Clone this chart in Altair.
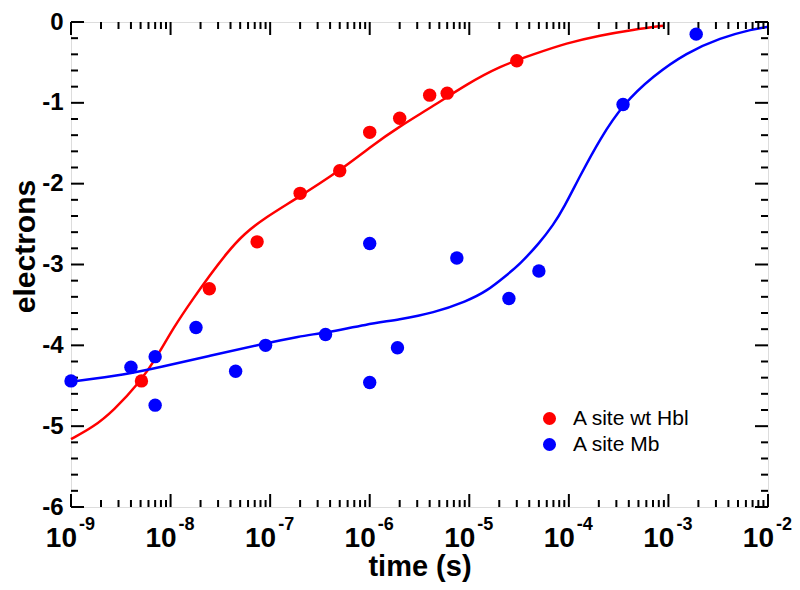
import altair as alt
import pandas as pd

# ---------------- data ----------------
series_names = ["A site wt Hbl", "A site Mb"]
series_colors = ["#ff0000", "#0000ff"]

red_t = [5.1e-9, 2.45e-8, 7.4e-8, 2.0e-7, 5.0e-7, 1.0e-6, 2.0e-6, 4.0e-6, 6.0e-6, 3.0e-5]
red_e = [-4.44, -3.30, -2.72, -2.12, -1.84, -1.365, -1.19, -0.905, -0.88, -0.48]

blue_t = [1.0e-9, 4.0e-9, 7.0e-9, 7.0e-9, 1.8e-8, 4.5e-8, 9.0e-8, 3.6e-7, 1.0e-6, 1.0e-6,
          1.9e-6, 7.5e-6, 2.5e-5, 5.0e-5, 3.5e-4, 1.9e-3]
blue_e = [-4.44, -4.27, -4.14, -4.74, -3.78, -4.32, -4.00, -3.865, -4.46, -2.74,
          -4.03, -2.92, -3.42, -3.08, -1.02, -0.15]

red_fit_t = [1.0e-9, 1.68e-9, 2.66e-9, 4.9e-9, 7.25e-9, 1.07e-8, 1.69e-8, 2.49e-8, 3.66e-8,
             5.38e-8, 9.2e-8, 1.7e-7, 5.0e-7, 1.0e-6, 2.0e-6, 4.35e-6, 9.4e-6, 2.04e-5,
             4.4e-5, 9.5e-5, 2.05e-4, 4.45e-4, 8.9e-4]
red_fit_e = [-5.16, -5.01, -4.81, -4.46, -4.15, -3.78, -3.42, -3.13, -2.86,
             -2.625, -2.41, -2.21, -1.84, -1.55, -1.29, -1.04, -0.77, -0.545,
             -0.40, -0.26, -0.165, -0.094, -0.045]

blue_fit_t = [1.0e-9, 3.6e-9, 7.8e-9, 2.49e-8, 7.9e-8, 2.0e-7, 3.6e-7, 9.3e-7, 2.0e-6,
              4.35e-6, 9.4e-6, 1.5e-5, 2.38e-5, 3.2e-5, 5.1e-5, 6.98e-5, 8.8e-5, 1.3e-4,
              2.05e-4, 3.5e-4, 7.0e-4, 1.52e-3, 3.3e-3, 7.1e-3, 1.0e-2]
blue_fit_e = [-4.45, -4.36, -4.27, -4.13, -3.99, -3.885, -3.845, -3.74, -3.68,
              -3.60, -3.455, -3.33, -3.13, -3.00, -2.73, -2.51, -2.31, -1.90,
              -1.447, -1.017, -0.668, -0.38, -0.197, -0.086, -0.06]

x_decades = [-9, -8, -7, -6, -5, -4, -3, -2]
y_tick_values = [0, -1, -2, -3, -4, -5, -6]

# ---------------- layout / style ----------------
W, H = 697, 485
FONT = "Liberation Sans"
MAJOR, MINOR = 13, 7

xscale = alt.Scale(type="log", domain=[1e-9, 1e-2], nice=False)
yscale = alt.Scale(domain=[-6, 0], nice=False, zero=False)

xaxis = alt.Axis(title="time (s)", labels=False, ticks=False, domain=False, grid=False,
                 titleFont=FONT, titleFontSize=29, titleFontWeight="bold", titleColor="black",
                 titleY=68, titleBaseline="alphabetic")
yaxis = alt.Axis(title="electrons", values=y_tick_values, labelExpr="'' + datum.value",
                 ticks=False, tickSize=0, domain=False, grid=False, labelPadding=8,
                 labelFont=FONT, labelFontSize=24, labelFontWeight="bold", labelColor="black",
                 titleFont=FONT, titleFontSize=30, titleFontWeight="bold", titleColor="black",
                 titleX=-37, titleY=224, titleBaseline="alphabetic")


def X(field):
    return alt.X(field, type="quantitative", scale=xscale, axis=xaxis)


def Y(field):
    return alt.Y(field, type="quantitative", scale=yscale, axis=yaxis)


# ---------------- tables ----------------
pts = pd.DataFrame({
    "t": red_t + blue_t,
    "e": red_e + blue_e,
    "series": [series_names[0]] * len(red_t) + [series_names[1]] * len(blue_t),
})
red_fit = pd.DataFrame({"t": red_fit_t, "e": red_fit_e})
blue_fit = pd.DataFrame({"t": blue_fit_t, "e": blue_fit_e})

x_major = pd.DataFrame({"t": [10.0 ** d for d in x_decades]})
x_minor = pd.DataFrame({"t": [k * 10.0 ** d for d in x_decades[:-1] for k in range(2, 10)]})
y_major = pd.DataFrame({"v": y_tick_values})
y_minor = pd.DataFrame({"v": [round(-0.2 * i, 1) for i in range(1, 30) if i % 5 != 0]})
x_labels = pd.DataFrame({"t": [10.0 ** d for d in x_decades],
                         "base": ["10"] * len(x_decades),
                         "exp": [str(d) for d in x_decades]})

# ---------------- layers ----------------
red_line = alt.Chart(red_fit).mark_line(interpolate="basis", strokeWidth=2.5,
                                        color=series_colors[0]).encode(x=X("t"), y=Y("e"))
blue_line = alt.Chart(blue_fit).mark_line(interpolate="basis", strokeWidth=2.5,
                                          color=series_colors[1]).encode(x=X("t"), y=Y("e"))

points = alt.Chart(pts).mark_circle(size=180, opacity=1).encode(
    x=X("t"), y=Y("e"),
    color=alt.Color("series:N",
                    scale=alt.Scale(domain=series_names, range=series_colors),
                    legend=alt.Legend(orient="none", legendX=468, legendY=386, title=None,
                                      labelFont=FONT, labelFontSize=21, labelColor="black",
                                      symbolType="circle", symbolSize=170, symbolStrokeWidth=0,
                                      labelOffset=13, rowPadding=4, padding=0)),
)


def rule_layer(df, field, side, length):
    base = alt.Chart(df).mark_rule(color="black", strokeWidth=2)
    if side == "bottom":
        return base.encode(x=X(field), y=alt.value(H), y2=alt.value(H - length))
    if side == "top":
        return base.encode(x=X(field), y=alt.value(0), y2=alt.value(length))
    if side == "left":
        return base.encode(y=Y(field), x=alt.value(0), x2=alt.value(length))
    return base.encode(y=Y(field), x=alt.value(W), x2=alt.value(W - length))


ticks = [
    rule_layer(x_major, "t", "bottom", MAJOR), rule_layer(x_minor, "t", "bottom", MINOR),
    rule_layer(x_major, "t", "top", MAJOR), rule_layer(x_minor, "t", "top", MINOR),
    rule_layer(y_major, "v", "left", MAJOR), rule_layer(y_minor, "v", "left", MINOR),
    rule_layer(y_major, "v", "right", MAJOR), rule_layer(y_minor, "v", "right", MINOR),
]

lab_base = alt.Chart(x_labels).mark_text(align="right", baseline="alphabetic", dx=6,
                                         font=FONT, fontSize=28, fontWeight="bold",
                                         color="black").encode(
    x=X("t"), y=alt.value(H + 40), text="base:N")
lab_exp = alt.Chart(x_labels).mark_text(align="left", baseline="alphabetic", dx=8,
                                        font=FONT, fontSize=18, fontWeight="bold",
                                        color="black").encode(
    x=X("t"), y=alt.value(H + 23), text="exp:N")

chart = alt.layer(
    red_line, blue_line, *ticks, points, lab_base, lab_exp
).properties(
    width=W, height=H,
    autosize=alt.AutoSizeParams(type="none"),
    padding={"left": 63, "top": 14, "right": 24, "bottom": 75},
).configure_view(
    stroke="black", strokeWidth=2
).configure(background="white")

chart.save("out.html", embed_options={"renderer": "svg", "actions": False})
